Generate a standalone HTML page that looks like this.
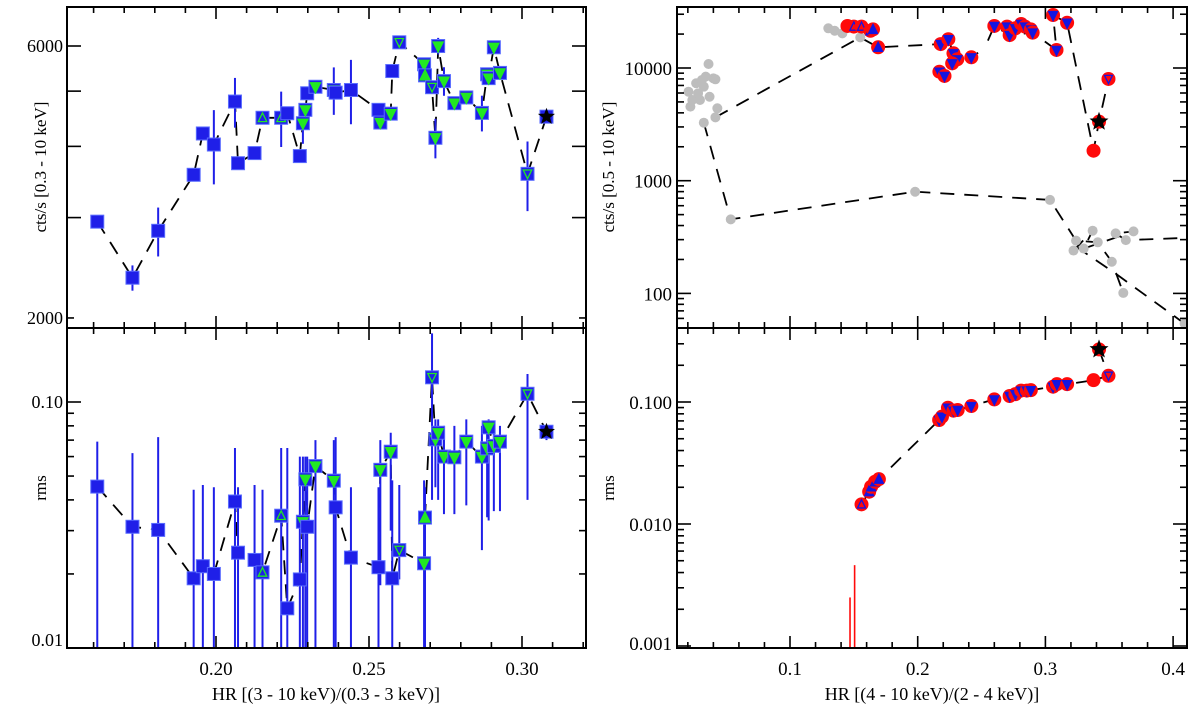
<!DOCTYPE html>
<html><head><meta charset="utf-8"><style>
html,body{margin:0;padding:0;background:#fff;}
svg{display:block;font-family:"Liberation Serif",serif;}
</style></head><body>
<svg id="c" width="1200" height="710" viewBox="0 0 1200 710" xmlns="http://www.w3.org/2000/svg"></svg>
<script>
// ---------- LEFT PANELS DATA ----------
const leftHR   = [0.1612,0.1727,0.1811,0.1927,0.1957,0.1993,0.2062,0.2072,0.2126,0.2152,0.2213,0.2233,0.2274,0.2284,0.2292,0.2298,0.2325,0.2385,0.2391,0.2441,0.2531,0.2537,0.2571,0.2576,0.2599,0.2680,0.2683,0.2706,0.2717,0.2726,0.2745,0.2779,0.2818,0.2869,0.2886,0.2891,0.2908,0.2928,0.3018,0.3080];
const leftType = ['sq','sq','sq','sq','sq','sq','sq','sq','sq','ou','ou','sq','sq','fd','fd','sq','fd','fd','sq','sq','sq','fd','fd','sq','od','fd','fu','od','fd','fd','fd','fd','fd','fd','fd','fd','fd','fd','od','star'];
const leftCts  = [2951,2353,2844,3566,4214,4030,4794,3737,3893,4490,4490,4573,3846,4392,4636,4957,5089,5023,4969,5023,4636,4404,4565,5423,6090,5573,5329,5080,4141,6000,5207,4763,4874,4579,5352,5270,5969,5382,3580,4510];
const leftCtsErr=[40,120,280,40,40,600,480,80,40,40,500,40,40,350,40,40,40,480,40,650,40,40,40,40,40,40,40,40,330,200,300,40,40,330,40,120,40,40,500,40];
const leftRms  = [0.0453,0.0311,0.0302,0.0192,0.0215,0.0200,0.0394,0.0244,0.0228,0.0203,0.0345,0.0145,0.0190,0.0326,0.0485,0.0311,0.0549,0.0479,0.0373,0.0233,0.0213,0.0530,0.0628,0.0192,0.0250,0.0221,0.0339,0.126,0.0705,0.0750,0.0600,0.0596,0.0690,0.0600,0.0648,0.0789,0.0663,0.0690,0.108,0.0757];
const leftRmsHi= [0.069,0.062,0.072,0.044,0.046,0.045,0.065,0.045,0.046,0.044,0.065,0.065,0.06,0.06,0.060,0.06,0.07,0.07,0.072,0.045,0.045,0.07,0.075,0.048,0.046,0.048,0.045,0.19,0.085,0.085,0.08,0.08,0.085,0.08,0.08,0.085,0.08,0.08,0.13,0.08];
const leftRmsLo= [0.01,0.01,0.01,0.01,0.01,0.01,0.01,0.01,0.01,0.01,0.01,0.01,0.01,0.01,0.01,0.01,0.01,0.01,0.01,0.01,0.01,0.018,0.03,0.01,0.019,0.01,0.01,0.04,0.045,0.04,0.035,0.035,0.038,0.025,0.034,0.033,0.036,0.036,0.04,0.07];
// ---------- RIGHT PANELS DATA ----------
const grayHR  = [0.0362,0.0205,0.0235,0.022,0.0265,0.031,0.034,0.040,0.0416,0.037,0.0295,0.0325,0.028,0.0431,0.0416,0.0325,0.0536,0.198,0.3036,0.324,0.322,0.330,0.337,0.341,0.355,0.369,0.363,0.352,0.361,0.414,0.409,0.130,0.135,0.141,0.155];
const grayCts = [10850,6160,5200,4540,7320,7830,8380,8100,7940,5560,5200,6830,5960,4390,3650,3270,454,798,675,294,240,250,360,284,341,355,297,191,101,312,54,22500,21400,20300,18700];
const rtHR    = [0.145,0.150,0.156,0.163,0.165,0.169,0.217,0.221,0.218,0.224,0.228,0.231,0.227,0.242,0.260,0.270,0.272,0.2765,0.281,0.284,0.2886,0.290,0.306,0.317,0.3087,0.3377,0.342,0.3494];
const rtCts   = [23600,23300,23300,21400,22000,15270,9270,8500,16300,18000,13500,11950,11000,12450,23600,23300,19600,22500,24600,23300,22000,20600,29500,25200,14450,1845,3340,7990];
const rtType  = ['c','ou','ou','fu','fu','fu','fd','fd','fd','fd','fd','fd','fd','fd','fd','fd','fd','fd','fd','fd','fd','fd','fd','fd','fd','c','star','od'];
const trackA  = [[0.0416,3650],[0.155,18700],[0.169,15270],[0.218,16300],[0.224,18000],[0.228,13500],[0.231,11950],[0.242,12450],[0.252,14800]];
const trackB  = [[0.255,17500],[0.260,23600],[0.272,19600],[0.290,20600],[0.3087,14450],[0.306,29500],[0.317,25200],[0.3377,1845],[0.342,3340],[0.3494,7990]];
const trackC  = [[0.0325,3270],[0.0536,454],[0.198,798],[0.3036,675],[0.324,294],[0.341,284],[0.352,191],[0.361,101]];
const trackD  = [[0.322,240],[0.337,360],[0.33,250],[0.369,355],[0.355,341],[0.363,297],[0.414,312]];
const trackE  = [[0.324,260],[0.355,150],[0.409,54]];
const rbHR    = [0.156,0.162,0.1635,0.1666,0.1696,0.2168,0.219,0.2237,0.228,0.2313,0.242,0.260,0.272,0.2765,0.281,0.2855,0.2886,0.306,0.309,0.317,0.3377,0.342,0.3494];
const rbRms   = [0.0145,0.0184,0.0202,0.0222,0.0233,0.0712,0.0758,0.0898,0.0849,0.0860,0.0927,0.105,0.112,0.116,0.124,0.124,0.125,0.1335,0.140,0.140,0.151,0.27,0.164];
const rbType  = ['ou','fu','fu','fu','fu','fd','fd','fd','fd','fd','fd','fd','fd','fd','fd','fd','fd','fd','fd','fd','c','star','od'];
const redLimHR  = [0.147,0.1506];
const redLimTop = [0.0025,0.0046];

// ---------- axes ----------
const L={x0:67,x1:586}, R={x0:677,x1:1187};
const TOP={y0:7,y1:328}, BOT={y0:328,y1:648};
const xL=v=>216+(v-0.2)*3060;
const xR=v=>790+(v-0.1)*1277;
const yLT=v=>46+(Math.log10(6000)-Math.log10(v))*570;
const yLB=v=>402+(-1-Math.log10(v))*246;
const yRT=v=>68+(4-Math.log10(v))*112.7;
const yRB=v=>402+(-1-Math.log10(v))*122;

const NS='http://www.w3.org/2000/svg';
const svg=document.getElementById('c');
function mk(t,a,p){const e=document.createElementNS(NS,t);for(const k in a)e.setAttribute(k,a[k]);(p||svg).appendChild(e);return e;}

const defs=mk('defs',{});
[['cLT',L,TOP],['cLB',L,BOT],['cRT',R,TOP],['cRB',R,BOT]].forEach(([id,X,Y])=>{const c=mk('clipPath',{id},defs);mk('rect',{x:X.x0,y:Y.y0,width:X.x1-X.x0,height:Y.y1-Y.y0},c);});
function grp(name,clip){const g=mk('g',{'clip-path':'url(#'+clip+')'});return g;}

function track(g,pts,fx,fy){
  const d=pts.map((p,i)=>(i?'L':'M')+fx(p[0]).toFixed(1)+','+fy(p[1]).toFixed(1)).join('');
  const e=mk('path',{d,fill:'none',stroke:'#000','stroke-width':1.8,'stroke-dasharray':'14,10'},g);
  
}
function tri(g,cx,cy,s,up,fill,stroke){
  const h=s*0.9;
  const pts=up?[[cx,cy-h/2-1],[cx-s/2,cy+h/2],[cx+s/2,cy+h/2]]:[[cx-s/2,cy-h/2],[cx+s/2,cy-h/2],[cx,cy+h/2+1]];
  return mk('polygon',{points:pts.map(p=>p.join(',')).join(' '),fill,stroke,'stroke-width':1.3},g);
}
function star(g,cx,cy,r){
  let p=[];for(let i=0;i<10;i++){const a=-Math.PI/2+i*Math.PI/5;const rr=i%2?r*0.42:r;p.push((cx+rr*Math.cos(a)).toFixed(1)+','+(cy+rr*Math.sin(a)).toFixed(1));}
  return mk('polygon',{points:p.join(' '),fill:'#000'},g);
}
function leftMarker(g,cx,cy,t){
  const m=mk('g',{},g);
  
  mk('rect',{x:cx-6.5,y:cy-6.5,width:13,height:13,fill:'#1f1fe8',stroke:'#5a6cff','stroke-width':1},m);
  if(t==='star'){star(m,cx,cy,9);return;}
  if(t==='fd')tri(m,cx,cy+0.5,10,false,'#22e822','#22e822');
  if(t==='fu')tri(m,cx,cy,10,true,'#22e822','#22e822');
  if(t==='od')tri(m,cx,cy,8.5,false,'none','#22e822');
  if(t==='ou')tri(m,cx,cy,8.5,true,'none','#22e822');
}
function rightMarker(g,cx,cy,t){
  const m=mk('g',{},g);
  
  mk('circle',{cx,cy,r:7,fill:'#ff0a0a'},m);
  if(t==='star'){star(m,cx,cy,10);return;}
  if(t==='fd')tri(m,cx,cy+0.5,9,false,'#1515e0','#1515e0');
  if(t==='fu')tri(m,cx,cy,9,true,'#1515e0','#1515e0');
  if(t==='od')tri(m,cx,cy,8,false,'none','#1515e0');
  if(t==='ou')tri(m,cx,cy,8,true,'none','#1515e0');
}

let g=grp('left-top-series','cLT');
track(g,leftHR.map((v,i)=>[v,leftCts[i]]),xL,yLT);
leftHR.forEach((v,i)=>{const x=xL(v);const e=mk('line',{x1:x,x2:x,y1:yLT(leftCts[i]+leftCtsErr[i]),y2:yLT(leftCts[i]-leftCtsErr[i]),stroke:'#1f1fe8','stroke-width':2},g);});
leftHR.forEach((v,i)=>leftMarker(g,xL(v),yLT(leftCts[i]),leftType[i]));

g=grp('left-bottom-series','cLB');
track(g,leftHR.map((v,i)=>[v,leftRms[i]]),xL,yLB);
leftHR.forEach((v,i)=>{const x=xL(v);const e=mk('line',{x1:x,x2:x,y1:yLB(leftRmsHi[i]),y2:yLB(leftRmsLo[i])+(leftRmsLo[i]<=0.01?5:0),stroke:'#1f1fe8','stroke-width':2},g);});
leftHR.forEach((v,i)=>leftMarker(g,xL(v),yLB(leftRms[i]),leftType[i]));

g=grp('right-top-series','cRT');
[trackA,trackB,trackC,trackD,trackE].forEach(t=>track(g,t,xR,yRT));
grayHR.forEach((v,i)=>{const e=mk('circle',{cx:xR(v),cy:yRT(grayCts[i]),r:5,fill:'#bdbdbd'},g);});
rtHR.forEach((v,i)=>rightMarker(g,xR(v),yRT(rtCts[i]),rtType[i]));

g=grp('right-bottom-series','cRB');
track(g,rbHR.slice(0,21).map((v,i)=>[v,rbRms[i]]).concat([[0.3494,0.164],[0.342,0.27]]),xR,yRB);
redLimHR.forEach((v,i)=>{const x=xR(v);const e=mk('line',{x1:x,x2:x,y1:yRB(redLimTop[i]),y2:650,stroke:'#ff0a0a','stroke-width':1.6},g);});
rbHR.forEach((v,i)=>rightMarker(g,xR(v),yRB(rbRms[i]),rbType[i]));

function frame(X,Y,name){const e=mk('rect',{x:X.x0,y:Y.y0,width:X.x1-X.x0,height:Y.y1-Y.y0,fill:'none',stroke:'#000','stroke-width':2});}
frame(L,TOP,'left-top-frame');frame(L,BOT,'left-bottom-frame');frame(R,TOP,'right-top-frame');frame(R,BOT,'right-bottom-frame');
function xticks(X,Y,f,lo,hi,step,majEvery){
  for(let k=Math.ceil(lo/step);k*step<=hi;k++){const v=k*step,x=f(v);if(x<X.x0+1||x>X.x1-1)continue;const L2=(k%majEvery===0)?12:6;
    mk('line',{x1:x,x2:x,y1:Y.y1,y2:Y.y1-L2,stroke:'#000','stroke-width':1.6});mk('line',{x1:x,x2:x,y1:Y.y0,y2:Y.y0+L2,stroke:'#000','stroke-width':1.6});}
}
function yticks(X,Y,f,vals,maj){
  vals.forEach(v=>{const y=f(v);if(y<Y.y0+1||y>Y.y1-1)return;const L2=maj.includes(v)?14:7;
    mk('line',{x1:X.x0,x2:X.x0+L2,y1:y,y2:y,stroke:'#000','stroke-width':1.6});mk('line',{x1:X.x1,x2:X.x1-L2,y1:y,y2:y,stroke:'#000','stroke-width':1.6});});
}
[TOP,BOT].forEach(Y=>{xticks(L,Y,xL,0.15,0.33,0.01,5);xticks(R,Y,xR,0.0,0.42,0.02,5);});
yticks(L,TOP,yLT,[2000,3000,4000,5000,6000],[3000,4000,5000,6000]);
let lb=[];for(let d=0.01;d<1;d*=10)for(let m=1;m<10;m++)lb.push(+(m*d).toFixed(3));
yticks(L,BOT,yLB,lb,[0.01,0.1]);
let rt=[];for(let d=10;d<1e5;d*=10)for(let m=1;m<10;m++)rt.push(m*d);
yticks(R,TOP,yRT,rt,[100,1000,10000]);
let rb=[];for(let d=0.001;d<1;d*=10)for(let m=1;m<10;m++)rb.push(+(m*d).toFixed(4));
yticks(R,BOT,yRB,rb,[0.001,0.01,0.1]);

function txt(s,x,y,anchor,size,name,rot){const e=mk('text',{x,y,'text-anchor':anchor,'font-size':size,fill:'#000'});if(rot)e.setAttribute('transform','rotate(-90 '+x+' '+y+')');e.textContent=s;return e;}
const xLabL=['0.20','0.25','0.30'], xLabLv=[0.20,0.25,0.30];
xLabLv.forEach((v,i)=>txt(xLabL[i],xL(v),675,'middle',19,'x-tick-label'));
const xLabR=['0.1','0.2','0.3','0.4'], xLabRv=[0.1,0.2,0.3,0.4];
xLabRv.forEach((v,i)=>txt(xLabR[i],xR(v),675,'middle',19,'x-tick-label'));
txt('6000',63,yLT(6000)+6,'end',18,'y-tick-label');
txt('2000',63,324,'end',18,'y-tick-label');
txt('0.10',63,yLB(0.1)+6,'end',18,'y-tick-label');
txt('0.01',63,646,'end',18,'y-tick-label');
txt('10000',672,yRT(10000)+7,'end',19,'y-tick-label');
txt('1000',672,yRT(1000)+7,'end',19,'y-tick-label');
txt('100',672,yRT(100)+7,'end',19,'y-tick-label');
txt('0.100',672,yRB(0.1)+7,'end',19,'y-tick-label');
txt('0.010',672,yRB(0.01)+7,'end',19,'y-tick-label');
txt('0.001',672,650,'end',19,'y-tick-label');
txt('cts/s [0.3 - 10 keV]',46,167,'middle',17,'left-top-y-title',true);
txt('rms',46,488,'middle',17,'left-bottom-y-title',true);
txt('cts/s [0.5 - 10 keV]',614,167,'middle',17,'right-top-y-title',true);
txt('rms',614,488,'middle',17,'right-bottom-y-title',true);
txt('HR [(3 - 10 keV)/(0.3 - 3 keV)]',326,700,'middle',18,'left-x-title');
txt('HR [(4 - 10 keV)/(2 - 4 keV)]',932,700,'middle',18,'right-x-title');
</script>
</body></html>
